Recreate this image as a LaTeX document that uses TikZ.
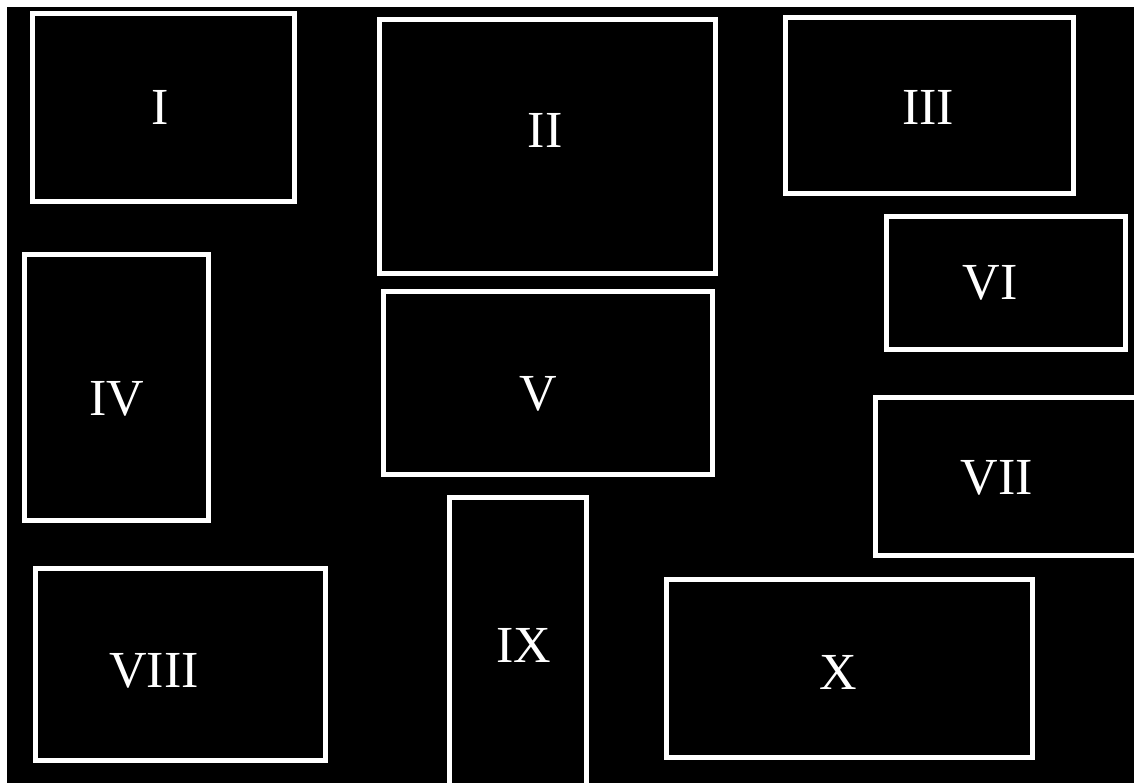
\documentclass[tikz,border=0pt]{standalone}
\usepackage{fontspec}
\setmainfont{Liberation Serif}
\usetikzlibrary{fit}
\tikzset{
  panel/.style={draw=white, line width=5pt, inner sep=0pt, rectangle},
  numeral/.style={text=white, font=\fontsize{52}{52}\selectfont, inner sep=0pt}
}
\begin{document}
\begin{tikzpicture}[x=1pt,y=-1pt]
\useasboundingbox (0,0) rectangle (1134,783);
\fill[white] (0,0) rectangle (1134,783);
\fill[black] (7,7) rectangle (1134,783);
\clip (0,0) rectangle (1134,783);
\node[panel, fit={(32.5,14) (294,201.5)}] (b1) {};
\node[panel, fit={(379,20) (715,274)}] (b2) {};
\node[panel, fit={(785,17.5) (1073.5,194)}] (b3) {};
\node[panel, fit={(24.5,255) (208.5,520.5)}] (b4) {};
\node[panel, fit={(383.5,291.5) (712,474.5)}] (b5) {};
\node[panel, fit={(886,217) (1125.5,349)}] (b6) {};
\node[panel, fit={(875,397) (1160,555)}] (b7) {};
\node[panel, fit={(35.5,568.5) (325.5,760.5)}] (b8) {};
\node[panel, fit={(449,497) (586,810)}] (b9) {};
\node[panel, fit={(666.5,579.5) (1032.5,757.5)}] (b10) {};
\node[numeral] (t1) at (160,107) {I};
\node[numeral] (t2) at (545,130) {II};
\node[numeral] (t3) at (928,107) {III};
\node[numeral] (t4) at (117,399) {IV};
\node[numeral] (t5) at (538,394) {V};
\node[numeral] (t6) at (990,283) {VI};
\node[numeral] (t7) at (997,478) {VII};
\node[numeral] (t8) at (154,671) {VIII};
\node[numeral] (t9) at (523.5,645) {IX};
\node[numeral] (t10) at (838,672) {X};
\end{tikzpicture}
\end{document}
